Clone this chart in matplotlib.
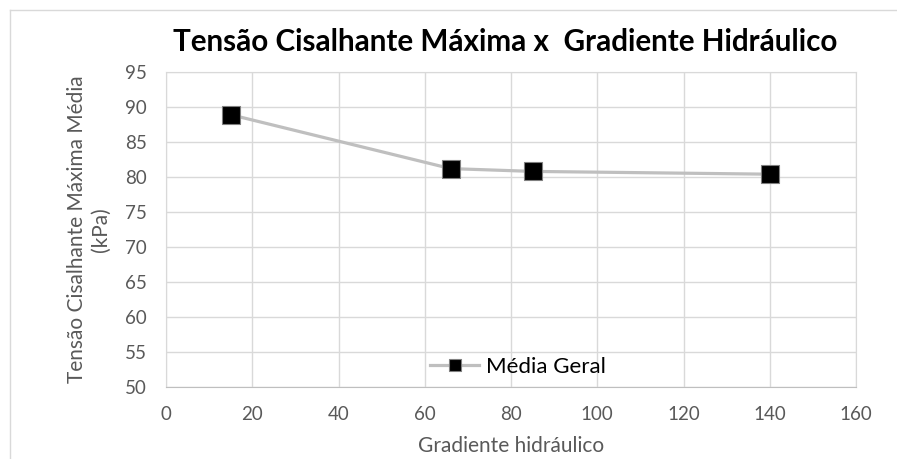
import matplotlib.pyplot as plt
from matplotlib.lines import Line2D

# data
gradiente = [15, 66, 85, 140]
tensao = [88.9, 81.2, 80.8, 80.4]
serie = 'Média Geral'

plt.rcParams['font.family'] = ['Lato', 'DejaVu Sans']

fig = plt.figure(figsize=(8.97, 4.59), dpi=100)
ax = fig.add_axes([166 / 897, 1 - 387 / 459, 690 / 897, 315 / 459])

ax.plot(gradiente, tensao, color='#BFBFBF', lw=2.3, marker='s', ms=13.5,
        mfc='black', mec='#7F7F7F', mew=0.8, zorder=3)

ax.set_xlim(0, 160)
ax.set_ylim(50, 95)
ax.set_xticks(range(0, 161, 20))
ax.set_yticks(range(50, 96, 5))
ax.grid(True, color='#D9D9D9', lw=1)
ax.set_axisbelow(True)
ax.tick_params(length=0, labelsize=13.5, colors='#595959')
ax.tick_params(axis='x', pad=14)
ax.tick_params(axis='y', pad=14)
for s in ['left', 'top', 'right']:
    ax.spines[s].set_color('#D9D9D9')
ax.spines['bottom'].set_color('#BFBFBF')

ax.set_xlabel('Gradiente hidráulico', fontsize=15, color='#595959', labelpad=9)
ax.set_ylabel('Tensão Cisalhante Máxima Média\n(kPa)', fontsize=15,
              color='#595959', labelpad=10)
fig.text(505 / 897, 1 - 42 / 459, 'Tensão Cisalhante Máxima x  Gradiente Hidráulico',
         ha='center', va='center', fontsize=21.3, fontweight='bold')

# legend key drawn a bit smaller, like the original
key = Line2D([], [], color='#BFBFBF', lw=2.3, marker='s', ms=9,
             mfc='black', mec='#7F7F7F', mew=0.8)
ax.legend([key], [serie], loc='center', bbox_to_anchor=(0.51, 0.065), frameon=False,
          fontsize=16, handlelength=2.2, handletextpad=0.3, borderpad=0)

# outer chart border (left and top visible)
fig.add_artist(Line2D([10 / 897, 10 / 897], [0, 1 - 10 / 459], color='#D9D9D9', lw=1))
fig.add_artist(Line2D([10 / 897, 1], [1 - 10 / 459, 1 - 10 / 459], color='#D9D9D9', lw=1))

fig.savefig('out.png', dpi=100)
